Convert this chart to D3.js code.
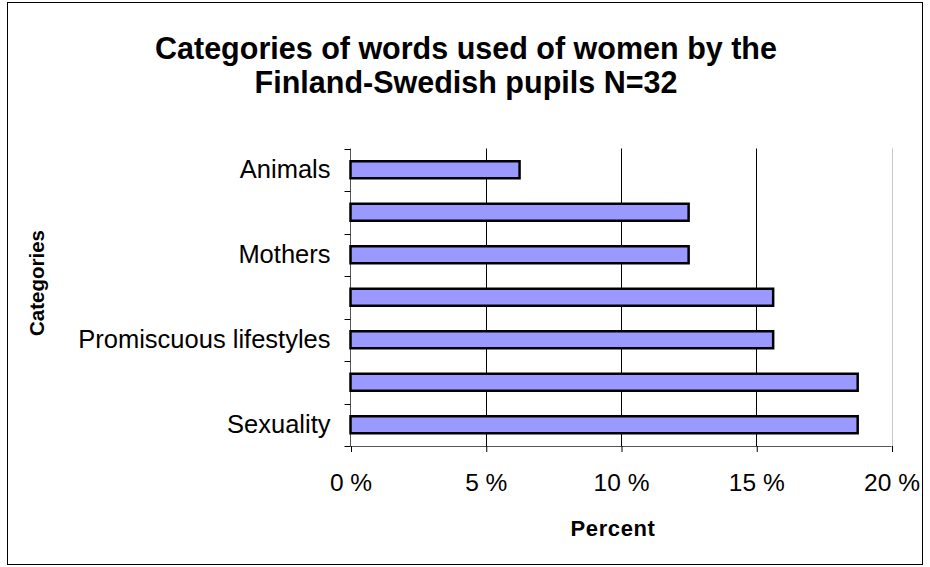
<!DOCTYPE html>
<html>
<head>
<meta charset="utf-8">
<script src="https://cdn.jsdelivr.net/npm/d3@7"></script>
<style>
  html, body { margin: 0; padding: 0; background: #fff; }
  svg { display: block; font-family: "Liberation Sans", Arial, sans-serif; }
</style>
</head>
<body>
<svg id="chart" width="930" height="567"></svg>
<script>
// Categories listed bottom to top; unlabeled categories are skipped in the original axis
const categories = ["Sexuality", "", "Promiscuous lifestyles", "", "Mothers", "", "Animals"];
const values = [18.75, 18.75, 15.625, 15.625, 12.5, 12.5, 6.25];
const xTicks = [0, 5, 10, 15, 20];
const titleLines = ["Categories of words used of women by the", "Finland-Swedish pupils N=32"];
const xTitle = "Percent";
const yTitle = "Categories";

const svg = d3.select("#chart");
const plot = { left: 350.5, right: 891.5, top: 148.5, bottom: 446 };

// chart border
svg.append("rect")
  .attr("x", 7.5).attr("y", 2.5)
  .attr("width", 915).attr("height", 562)
  .attr("fill", "#fff").attr("stroke", "#000").attr("stroke-width", 1);

const x = d3.scaleLinear().domain([0, 20]).range([plot.left, plot.right]);
const idx = d3.range(categories.length);
// bottom-to-top order: index 0 at the bottom
const y = d3.scaleBand().domain(idx).range([plot.bottom, plot.top])
  .paddingInner(0.6).paddingOuter(0.3);

// gridlines
svg.append("g").selectAll("line")
  .data(xTicks.filter(t => t > 0))
  .join("line")
  .attr("x1", d => Math.round(x(d)) + 0.5).attr("x2", d => Math.round(x(d)) + 0.5)
  .attr("y1", plot.top).attr("y2", plot.bottom)
  .attr("stroke", d => d === 20 ? "#c8c8c8" : "#000")
  .attr("stroke-width", 1);

// x axis
const xAxis = d3.axisBottom(x).tickValues(xTicks).tickSize(6).tickSizeOuter(0)
  .tickFormat(d => d + " %");
const gx = svg.append("g").attr("transform", `translate(0,${plot.bottom})`).call(xAxis);
gx.select(".domain").attr("stroke", "#555").attr("d", `M${plot.left},0.5H${plot.right}`);
gx.selectAll(".tick line").attr("stroke", "#000").attr("transform", "translate(0.5,0)");
gx.selectAll(".tick text")
  .attr("y", 0).attr("dy", 0)
  .attr("transform", "translate(0,45)")
  .attr("font-size", 24.5).attr("fill", "#000")
  .attr("font-family", "Liberation Sans, Arial, sans-serif");

// y axis line and boundary ticks
const step = y.step();
const bounds = d3.range(categories.length + 1).map(i => plot.bottom - i * step);
svg.append("line")
  .attr("x1", plot.left).attr("x2", plot.left)
  .attr("y1", plot.top).attr("y2", plot.bottom)
  .attr("stroke", "#555");
svg.append("g").selectAll("line").data(bounds).join("line")
  .attr("x1", plot.left - 6).attr("x2", plot.left)
  .attr("y1", d => Math.round(d) + 0.5).attr("y2", d => Math.round(d) + 0.5)
  .attr("stroke", "#000");

// category labels via axis
const yAxis = d3.axisLeft(y).tickSize(0).tickPadding(20)
  .tickFormat(i => categories[i]);
const gy = svg.append("g").attr("transform", `translate(${plot.left},0)`).call(yAxis);
gy.select(".domain").remove();
gy.selectAll(".tick text")
  .attr("font-size", 25.5).attr("fill", "#000")
  .attr("font-family", "Liberation Sans, Arial, sans-serif");

// bars
svg.append("g").selectAll("rect")
  .data(idx)
  .join("rect")
  .attr("x", x(0))
  .attr("y", i => y(i))
  .attr("width", i => x(values[i]) - x(0))
  .attr("height", y.bandwidth())
  .attr("fill", "#9999ff")
  .attr("stroke", "#000")
  .attr("stroke-width", 2.5);

// title
svg.append("g").selectAll("text").data(titleLines).join("text")
  .attr("x", 466).attr("y", (d, i) => 59 + i * 34)
  .attr("text-anchor", "middle")
  .attr("font-size", 30.5).attr("font-weight", "bold")
  .text(d => d);

// axis titles
svg.append("text")
  .attr("x", 613).attr("y", 536)
  .attr("text-anchor", "middle")
  .attr("font-size", 22).attr("font-weight", "bold")
  .attr("letter-spacing", 0.6)
  .text(xTitle);

svg.append("text")
  .attr("transform", "translate(44,283) rotate(-90)")
  .attr("text-anchor", "middle")
  .attr("font-size", 20.5).attr("font-weight", "bold")
  .text(yTitle);
</script>
</body>
</html>
